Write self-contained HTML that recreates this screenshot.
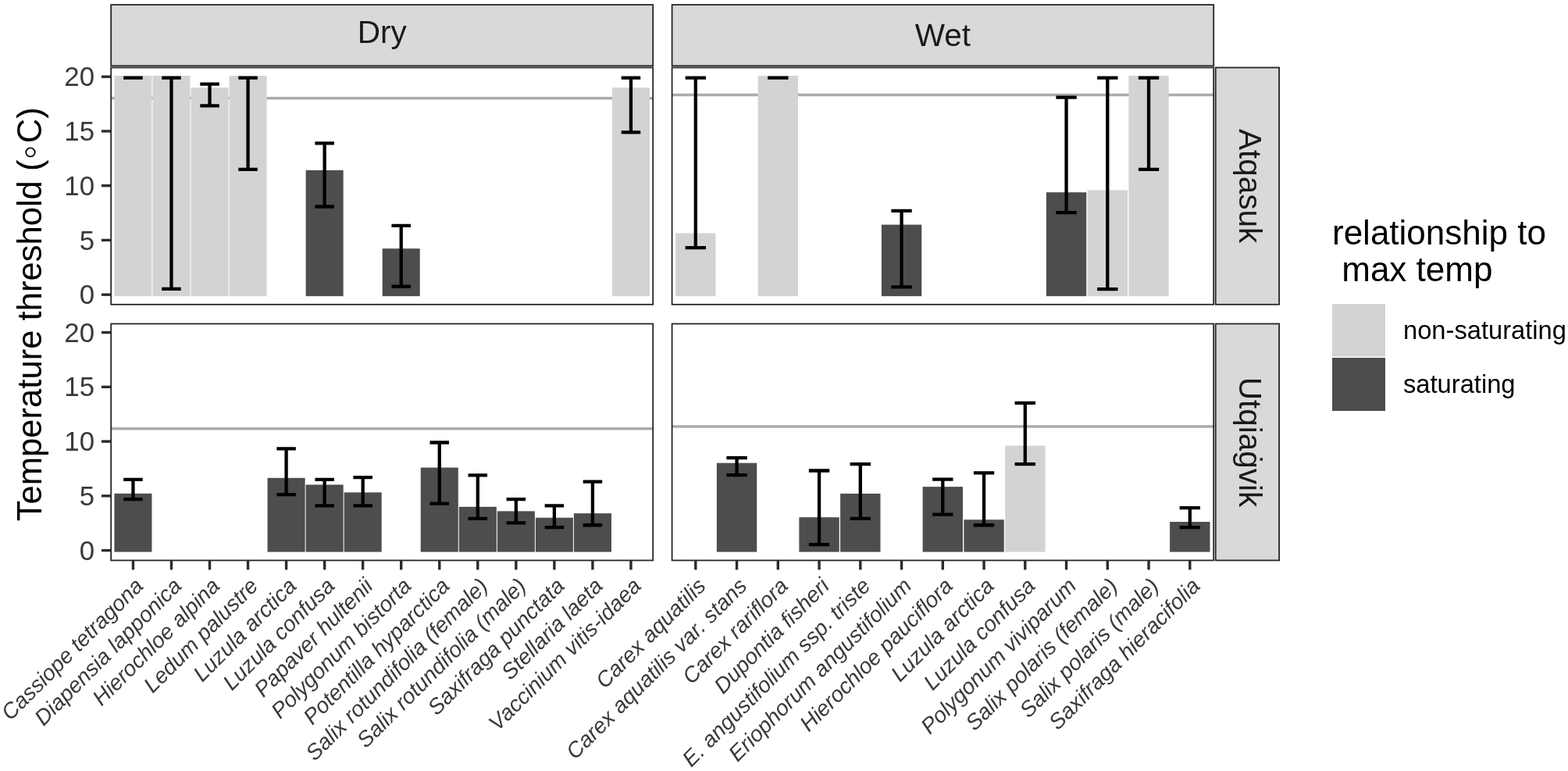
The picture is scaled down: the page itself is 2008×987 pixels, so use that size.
<!DOCTYPE html>
<html><head><meta charset="utf-8"><title>Temperature threshold</title><style>
html,body{margin:0;padding:0;background:#fff;}
svg{display:block;}
text{font-family:"Liberation Sans",sans-serif;}
.yt{font-size:34.8px;fill:#3A3A3A;text-anchor:end;}
.xt{font-size:28px;fill:#3A3A3A;font-style:italic;}
.st{font-size:40.5px;fill:#1A1A1A;}
.yl{font-size:43.6px;fill:#000;}
.ring{font-family:"DejaVu Sans",sans-serif;font-weight:200;font-size:48px;}
.lt{font-size:44px;fill:#000;}
.ll{font-size:32.7px;fill:#000;}
</style></head><body>
<svg width="2008" height="987" viewBox="0 0 2008 987">
<rect width="2008" height="987" fill="#fff"/>
<rect x="142.2" y="6.1" width="694" height="78.2" fill="#D9D9D9" stroke="#262626" stroke-width="1.8"/>
<text x="489.2" y="55.3" class="st" text-anchor="middle">Dry</text>
<rect x="860.6" y="6.1" width="693.6" height="78.2" fill="#D9D9D9" stroke="#262626" stroke-width="1.8"/>
<text x="1207.4" y="59.1" class="st" text-anchor="middle">Wet</text>
<rect x="1556.7" y="86.5" width="81.4" height="303.3" fill="#D9D9D9" stroke="#262626" stroke-width="1.8"/>
<text transform="translate(1586.5 238.15) rotate(90)" class="st" text-anchor="middle">Atqasuk</text>
<rect x="1556.7" y="414.5" width="81.4" height="302.9" fill="#D9D9D9" stroke="#262626" stroke-width="1.8"/>
<text transform="translate(1586.5 565.95) rotate(90)" class="st" text-anchor="middle">Utqiaġvik</text>
<line x1="142.2" y1="125.82" x2="836.2" y2="125.82" stroke="#ABABAB" stroke-width="3.5"/>
<rect x="146.42" y="96.95" width="48.04" height="282.2" fill="#D3D3D3"/>
<rect x="195.46" y="96.95" width="48.04" height="282.2" fill="#D3D3D3"/>
<rect x="244.5" y="112.15" width="48.04" height="267" fill="#D3D3D3"/>
<rect x="293.54" y="96.95" width="48.04" height="282.2" fill="#D3D3D3"/>
<rect x="391.62" y="217.89" width="48.04" height="161.26" fill="#4D4D4D"/>
<rect x="489.7" y="318.19" width="48.04" height="60.96" fill="#4D4D4D"/>
<rect x="783.94" y="112.15" width="48.04" height="267" fill="#D3D3D3"/>
<path d="M158.18 99.6H182.7M170.44 99.6V99.6M158.18 99.6H182.7" stroke="#000" stroke-width="4.3" fill="none"/>
<path d="M207.22 99.6H231.74M219.48 99.6V369.81M207.22 369.81H231.74" stroke="#000" stroke-width="4.3" fill="none"/>
<path d="M256.26 107.69H280.78M268.52 107.69V135.45M256.26 135.45H280.78" stroke="#000" stroke-width="4.3" fill="none"/>
<path d="M305.3 99.6H329.82M317.56 99.6V216.78M305.3 216.78H329.82" stroke="#000" stroke-width="4.3" fill="none"/>
<path d="M403.38 183.29H427.9M415.64 183.29V264.48M403.38 264.48H427.9" stroke="#000" stroke-width="4.3" fill="none"/>
<path d="M501.46 288.9H525.98M513.72 288.9V366.74M501.46 366.74H525.98" stroke="#000" stroke-width="4.3" fill="none"/>
<path d="M795.7 99.6H820.22M807.96 99.6V169.34M795.7 169.34H820.22" stroke="#000" stroke-width="4.3" fill="none"/>
<rect x="142.2" y="86.5" width="694" height="303.3" fill="none" stroke="#262626" stroke-width="1.8"/>
<line x1="860.6" y1="121.5" x2="1554.2" y2="121.5" stroke="#ABABAB" stroke-width="3.5"/>
<rect x="865.11" y="298.53" width="51.38" height="80.62" fill="#D3D3D3"/>
<rect x="970.61" y="96.95" width="51.38" height="282.2" fill="#D3D3D3"/>
<rect x="1128.86" y="287.64" width="51.38" height="91.51" fill="#4D4D4D"/>
<rect x="1339.86" y="246.21" width="51.38" height="132.94" fill="#4D4D4D"/>
<rect x="1392.61" y="243.42" width="51.38" height="135.73" fill="#D3D3D3"/>
<rect x="1445.36" y="96.95" width="51.38" height="282.2" fill="#D3D3D3"/>
<path d="M877.61 99.6H903.99M890.8 99.6V317.08M877.61 317.08H903.99" stroke="#000" stroke-width="4.3" fill="none"/>
<path d="M983.11 99.6H1009.49M996.3 99.6V99.6M983.11 99.6H1009.49" stroke="#000" stroke-width="4.3" fill="none"/>
<path d="M1141.36 269.78H1167.74M1154.55 269.78V367.3M1141.36 367.3H1167.74" stroke="#000" stroke-width="4.3" fill="none"/>
<path d="M1352.36 124.7H1378.74M1365.55 124.7V272.16M1352.36 272.16H1378.74" stroke="#000" stroke-width="4.3" fill="none"/>
<path d="M1405.11 99.6H1431.49M1418.3 99.6V370.09M1405.11 370.09H1431.49" stroke="#000" stroke-width="4.3" fill="none"/>
<path d="M1457.86 99.6H1484.24M1471.05 99.6V216.78M1457.86 216.78H1484.24" stroke="#000" stroke-width="4.3" fill="none"/>
<rect x="860.6" y="86.5" width="693.6" height="303.3" fill="none" stroke="#262626" stroke-width="1.8"/>
<line x1="142.2" y1="548.64" x2="836.2" y2="548.64" stroke="#ABABAB" stroke-width="3.5"/>
<rect x="146.42" y="631.78" width="48.04" height="74.77" fill="#4D4D4D"/>
<rect x="342.58" y="611.84" width="48.04" height="94.71" fill="#4D4D4D"/>
<rect x="391.62" y="620.48" width="48.04" height="86.07" fill="#4D4D4D"/>
<rect x="440.66" y="630.39" width="48.04" height="76.16" fill="#4D4D4D"/>
<rect x="538.74" y="598.58" width="48.04" height="107.97" fill="#4D4D4D"/>
<rect x="587.78" y="648.8" width="48.04" height="57.75" fill="#4D4D4D"/>
<rect x="636.82" y="654.38" width="48.04" height="52.17" fill="#4D4D4D"/>
<rect x="685.86" y="662.75" width="48.04" height="43.8" fill="#4D4D4D"/>
<rect x="734.9" y="657.17" width="48.04" height="49.38" fill="#4D4D4D"/>
<path d="M158.18 613.93H182.7M170.44 613.93V639.04M158.18 639.04H182.7" stroke="#000" stroke-width="4.3" fill="none"/>
<path d="M354.34 574.45H378.86M366.6 574.45V633.04M354.34 633.04H378.86" stroke="#000" stroke-width="4.3" fill="none"/>
<path d="M403.38 613.93H427.9M415.64 613.93V647.4M403.38 647.4H427.9" stroke="#000" stroke-width="4.3" fill="none"/>
<path d="M452.42 611.13H476.94M464.68 611.13V647.4M452.42 647.4H476.94" stroke="#000" stroke-width="4.3" fill="none"/>
<path d="M550.5 566.5H575.02M562.76 566.5V644.62M550.5 644.62H575.02" stroke="#000" stroke-width="4.3" fill="none"/>
<path d="M599.54 608.35H624.06M611.8 608.35V663.87M599.54 663.87H624.06" stroke="#000" stroke-width="4.3" fill="none"/>
<path d="M648.58 639.04H673.1M660.84 639.04V669.45M648.58 669.45H673.1" stroke="#000" stroke-width="4.3" fill="none"/>
<path d="M697.62 647.4H722.14M709.88 647.4V675.03M697.62 675.03H722.14" stroke="#000" stroke-width="4.3" fill="none"/>
<path d="M746.66 616.72H771.18M758.92 616.72V672.24M746.66 672.24H771.18" stroke="#000" stroke-width="4.3" fill="none"/>
<rect x="142.2" y="414.5" width="694" height="302.9" fill="none" stroke="#262626" stroke-width="1.8"/>
<line x1="170.44" y1="717.4" x2="170.44" y2="729.4" stroke="#2B2B2B" stroke-width="3.4"/>
<line x1="219.48" y1="717.4" x2="219.48" y2="729.4" stroke="#2B2B2B" stroke-width="3.4"/>
<line x1="268.52" y1="717.4" x2="268.52" y2="729.4" stroke="#2B2B2B" stroke-width="3.4"/>
<line x1="317.56" y1="717.4" x2="317.56" y2="729.4" stroke="#2B2B2B" stroke-width="3.4"/>
<line x1="366.6" y1="717.4" x2="366.6" y2="729.4" stroke="#2B2B2B" stroke-width="3.4"/>
<line x1="415.64" y1="717.4" x2="415.64" y2="729.4" stroke="#2B2B2B" stroke-width="3.4"/>
<line x1="464.68" y1="717.4" x2="464.68" y2="729.4" stroke="#2B2B2B" stroke-width="3.4"/>
<line x1="513.72" y1="717.4" x2="513.72" y2="729.4" stroke="#2B2B2B" stroke-width="3.4"/>
<line x1="562.76" y1="717.4" x2="562.76" y2="729.4" stroke="#2B2B2B" stroke-width="3.4"/>
<line x1="611.8" y1="717.4" x2="611.8" y2="729.4" stroke="#2B2B2B" stroke-width="3.4"/>
<line x1="660.84" y1="717.4" x2="660.84" y2="729.4" stroke="#2B2B2B" stroke-width="3.4"/>
<line x1="709.88" y1="717.4" x2="709.88" y2="729.4" stroke="#2B2B2B" stroke-width="3.4"/>
<line x1="758.92" y1="717.4" x2="758.92" y2="729.4" stroke="#2B2B2B" stroke-width="3.4"/>
<line x1="807.96" y1="717.4" x2="807.96" y2="729.4" stroke="#2B2B2B" stroke-width="3.4"/>
<line x1="860.6" y1="545.99" x2="1554.2" y2="545.99" stroke="#ABABAB" stroke-width="3.5"/>
<rect x="917.86" y="592.72" width="51.38" height="113.83" fill="#4D4D4D"/>
<rect x="1023.36" y="662.19" width="51.38" height="44.36" fill="#4D4D4D"/>
<rect x="1076.11" y="631.92" width="51.38" height="74.63" fill="#4D4D4D"/>
<rect x="1181.61" y="623.13" width="51.38" height="83.42" fill="#4D4D4D"/>
<rect x="1234.36" y="665.26" width="51.38" height="41.29" fill="#4D4D4D"/>
<rect x="1287.11" y="570.54" width="51.38" height="136.01" fill="#D3D3D3"/>
<rect x="1498.11" y="668.05" width="51.38" height="38.5" fill="#4D4D4D"/>
<path d="M930.36 586.03H956.74M943.55 586.03V608.07M930.36 608.07H956.74" stroke="#000" stroke-width="4.3" fill="none"/>
<path d="M1035.86 602.49H1062.24M1049.05 602.49V697.21M1035.86 697.21H1062.24" stroke="#000" stroke-width="4.3" fill="none"/>
<path d="M1088.61 594.12H1114.99M1101.8 594.12V663.87M1088.61 663.87H1114.99" stroke="#000" stroke-width="4.3" fill="none"/>
<path d="M1194.11 613.65H1220.49M1207.3 613.65V658.57M1194.11 658.57H1220.49" stroke="#000" stroke-width="4.3" fill="none"/>
<path d="M1246.86 605.28H1273.24M1260.05 605.28V672.24M1246.86 672.24H1273.24" stroke="#000" stroke-width="4.3" fill="none"/>
<path d="M1299.61 515.86H1325.99M1312.8 515.86V594.12M1299.61 594.12H1325.99" stroke="#000" stroke-width="4.3" fill="none"/>
<path d="M1510.61 650.2H1536.99M1523.8 650.2V675.17M1510.61 675.17H1536.99" stroke="#000" stroke-width="4.3" fill="none"/>
<rect x="860.6" y="414.5" width="693.6" height="302.9" fill="none" stroke="#262626" stroke-width="1.8"/>
<line x1="890.8" y1="717.4" x2="890.8" y2="729.4" stroke="#2B2B2B" stroke-width="3.4"/>
<line x1="943.55" y1="717.4" x2="943.55" y2="729.4" stroke="#2B2B2B" stroke-width="3.4"/>
<line x1="996.3" y1="717.4" x2="996.3" y2="729.4" stroke="#2B2B2B" stroke-width="3.4"/>
<line x1="1049.05" y1="717.4" x2="1049.05" y2="729.4" stroke="#2B2B2B" stroke-width="3.4"/>
<line x1="1101.8" y1="717.4" x2="1101.8" y2="729.4" stroke="#2B2B2B" stroke-width="3.4"/>
<line x1="1154.55" y1="717.4" x2="1154.55" y2="729.4" stroke="#2B2B2B" stroke-width="3.4"/>
<line x1="1207.3" y1="717.4" x2="1207.3" y2="729.4" stroke="#2B2B2B" stroke-width="3.4"/>
<line x1="1260.05" y1="717.4" x2="1260.05" y2="729.4" stroke="#2B2B2B" stroke-width="3.4"/>
<line x1="1312.8" y1="717.4" x2="1312.8" y2="729.4" stroke="#2B2B2B" stroke-width="3.4"/>
<line x1="1365.55" y1="717.4" x2="1365.55" y2="729.4" stroke="#2B2B2B" stroke-width="3.4"/>
<line x1="1418.3" y1="717.4" x2="1418.3" y2="729.4" stroke="#2B2B2B" stroke-width="3.4"/>
<line x1="1471.05" y1="717.4" x2="1471.05" y2="729.4" stroke="#2B2B2B" stroke-width="3.4"/>
<line x1="1523.8" y1="717.4" x2="1523.8" y2="729.4" stroke="#2B2B2B" stroke-width="3.4"/>
<line x1="130" y1="377.2" x2="142.2" y2="377.2" stroke="#2B2B2B" stroke-width="3.4"/>
<text x="121" y="389.3" class="yt">0</text>
<line x1="130" y1="307.45" x2="142.2" y2="307.45" stroke="#2B2B2B" stroke-width="3.4"/>
<text x="121" y="319.55" class="yt">5</text>
<line x1="130" y1="237.7" x2="142.2" y2="237.7" stroke="#2B2B2B" stroke-width="3.4"/>
<text x="121" y="249.8" class="yt">10</text>
<line x1="130" y1="167.95" x2="142.2" y2="167.95" stroke="#2B2B2B" stroke-width="3.4"/>
<text x="121" y="180.05" class="yt">15</text>
<line x1="130" y1="98.2" x2="142.2" y2="98.2" stroke="#2B2B2B" stroke-width="3.4"/>
<text x="121" y="110.3" class="yt">20</text>
<line x1="130" y1="704.6" x2="142.2" y2="704.6" stroke="#2B2B2B" stroke-width="3.4"/>
<text x="121" y="716.7" class="yt">0</text>
<line x1="130" y1="634.85" x2="142.2" y2="634.85" stroke="#2B2B2B" stroke-width="3.4"/>
<text x="121" y="646.95" class="yt">5</text>
<line x1="130" y1="565.1" x2="142.2" y2="565.1" stroke="#2B2B2B" stroke-width="3.4"/>
<text x="121" y="577.2" class="yt">10</text>
<line x1="130" y1="495.35" x2="142.2" y2="495.35" stroke="#2B2B2B" stroke-width="3.4"/>
<text x="121" y="507.45" class="yt">15</text>
<line x1="130" y1="425.6" x2="142.2" y2="425.6" stroke="#2B2B2B" stroke-width="3.4"/>
<text x="121" y="437.7" class="yt">20</text>
<text transform="translate(170.84 737.7) rotate(-45)" y="20" class="xt" text-anchor="end">Cassiope tetragona</text>
<text transform="translate(219.88 737.7) rotate(-45)" y="20" class="xt" text-anchor="end">Diapensia lapponica</text>
<text transform="translate(268.92 737.7) rotate(-45)" y="20" class="xt" text-anchor="end">Hierochloe alpina</text>
<text transform="translate(317.96 737.7) rotate(-45)" y="20" class="xt" text-anchor="end">Ledum palustre</text>
<text transform="translate(367 737.7) rotate(-45)" y="20" class="xt" text-anchor="end">Luzula arctica</text>
<text transform="translate(416.04 737.7) rotate(-45)" y="20" class="xt" text-anchor="end">Luzula confusa</text>
<text transform="translate(465.08 737.7) rotate(-45)" y="20" class="xt" text-anchor="end">Papaver hultenii</text>
<text transform="translate(514.12 737.7) rotate(-45)" y="20" class="xt" text-anchor="end">Polygonum bistorta</text>
<text transform="translate(563.16 737.7) rotate(-45)" y="20" class="xt" text-anchor="end">Potentilla hyparctica</text>
<text transform="translate(612.2 737.7) rotate(-45)" y="20" class="xt" text-anchor="end">Salix rotundifolia (female)</text>
<text transform="translate(661.24 737.7) rotate(-45)" y="20" class="xt" text-anchor="end">Salix rotundifolia (male)</text>
<text transform="translate(710.28 737.7) rotate(-45)" y="20" class="xt" text-anchor="end">Saxifraga punctata</text>
<text transform="translate(759.32 737.7) rotate(-45)" y="20" class="xt" text-anchor="end">Stellaria laeta</text>
<text transform="translate(808.36 737.7) rotate(-45)" y="20" class="xt" text-anchor="end">Vaccinium vitis-idaea</text>
<text transform="translate(891.2 737.7) rotate(-45)" y="20" class="xt" text-anchor="end">Carex aquatilis</text>
<text transform="translate(943.95 737.7) rotate(-45)" y="20" class="xt" text-anchor="end">Carex aquatilis var. stans</text>
<text transform="translate(996.7 737.7) rotate(-45)" y="20" class="xt" text-anchor="end">Carex rariflora</text>
<text transform="translate(1049.45 737.7) rotate(-45)" y="20" class="xt" text-anchor="end">Dupontia fisheri</text>
<text transform="translate(1102.2 737.7) rotate(-45)" y="20" class="xt" text-anchor="end">E. angustifolium ssp. triste</text>
<text transform="translate(1154.95 737.7) rotate(-45)" y="20" class="xt" text-anchor="end">Eriophorum angustifolium</text>
<text transform="translate(1207.7 737.7) rotate(-45)" y="20" class="xt" text-anchor="end">Hierochloe pauciflora</text>
<text transform="translate(1260.45 737.7) rotate(-45)" y="20" class="xt" text-anchor="end">Luzula arctica</text>
<text transform="translate(1313.2 737.7) rotate(-45)" y="20" class="xt" text-anchor="end">Luzula confusa</text>
<text transform="translate(1365.95 737.7) rotate(-45)" y="20" class="xt" text-anchor="end">Polygonum viviparum</text>
<text transform="translate(1418.7 737.7) rotate(-45)" y="20" class="xt" text-anchor="end">Salix polaris (female)</text>
<text transform="translate(1471.45 737.7) rotate(-45)" y="20" class="xt" text-anchor="end">Salix polaris (male)</text>
<text transform="translate(1524.2 737.7) rotate(-45)" y="20" class="xt" text-anchor="end">Saxifraga hieracifolia</text>
<text transform="translate(52.5 402.3) rotate(-90)" class="yl" text-anchor="middle">Temperature threshold (<tspan class="ring" dx="-5.2" dy="1.4">∘</tspan><tspan dx="-3.6" dy="-1.4">C)</tspan></text>
<text x="1706" y="313" class="lt">relationship to</text>
<text x="1706" y="360" class="lt" xml:space="preserve"> max temp</text>
<rect x="1706" y="389.2" width="68" height="67.4" fill="#D3D3D3"/>
<rect x="1706" y="458" width="68" height="68" fill="#4D4D4D"/>
<text x="1797" y="434" class="ll">non-saturating</text>
<text x="1797" y="503" class="ll">saturating</text>
</svg>
</body></html>
